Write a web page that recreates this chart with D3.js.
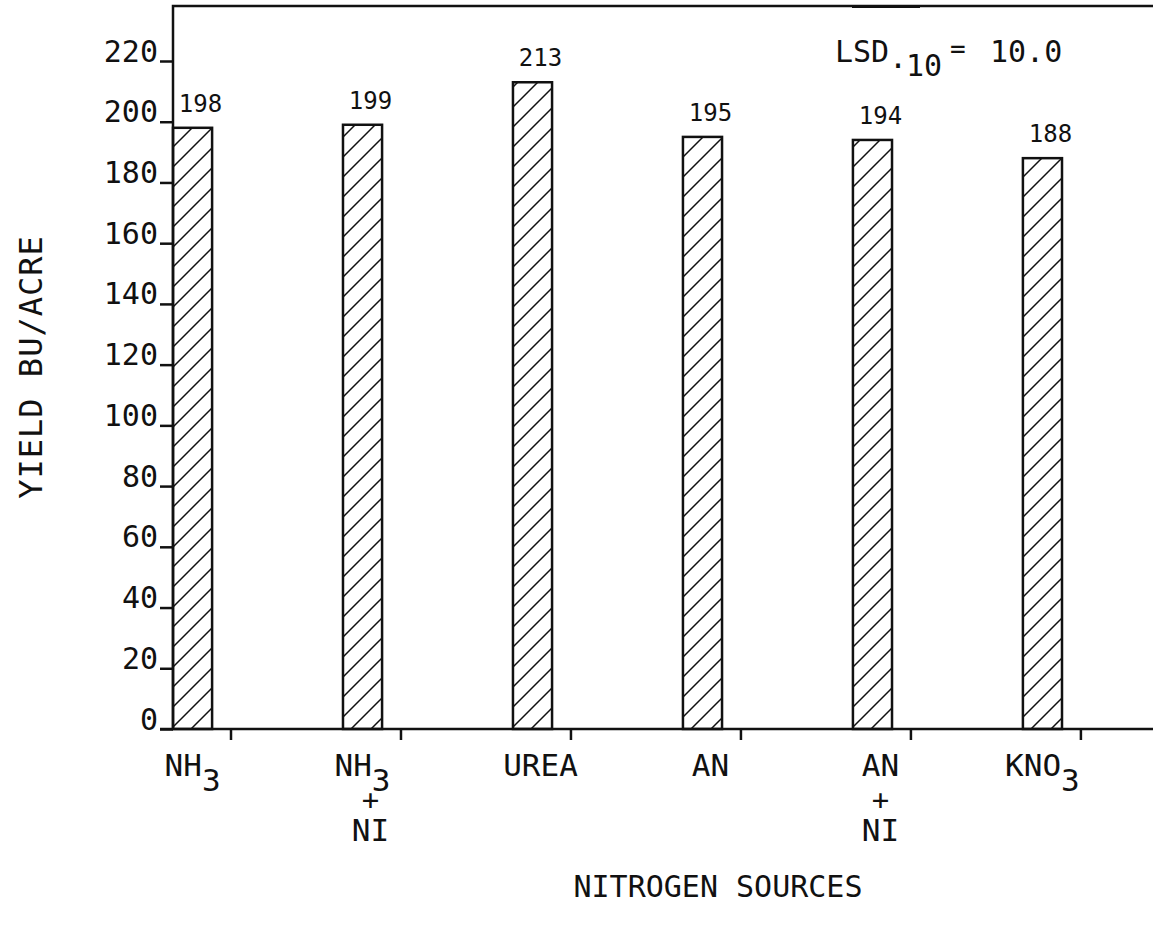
<!DOCTYPE html>
<html>
<head>
<meta charset="utf-8">
<script src="https://cdn.jsdelivr.net/npm/d3@7/dist/d3.min.js"></script>
<style>
  body { margin: 0; background: #fff; }
  text { font-family: "DejaVu Sans Mono", monospace; fill: #111; }
</style>
</head>
<body>
<div id="mount"></div>
<script>
// chart data
var sources = ['NH3', 'NH3+NI', 'UREA', 'AN', 'AN+NI', 'KNO3'];
var yields = [198, 199, 213, 195, 194, 188];
var yTicks = [0, 20, 40, 60, 80, 100, 120, 140, 160, 180, 200, 220];
// label lines: [main, subscript] per row
var labelLines = [
  [['NH', '3']],
  [['NH', '3'], ['+', ''], ['NI', '']],
  [['UREA', '']],
  [['AN', '']],
  [['AN', ''], ['+', ''], ['NI', '']],
  [['KNO', '3']]
];

var W = 1153, H = 930;
var plotLeft = 173, plotTop = 6, plotBottom = 729, plotRight = 1153;

var svg = d3.select('#mount').append('svg')
    .attr('width', W)
    .attr('height', H);

// hatch pattern
var pat = svg.append('defs').append('pattern')
    .attr('id', 'hatch')
    .attr('patternUnits', 'userSpaceOnUse')
    .attr('width', 20)
    .attr('height', 20);
pat.append('path')
    .attr('d', 'M0,20 L20,0 M-5,5 L5,-5 M15,25 L25,15')
    .attr('stroke', '#111')
    .attr('stroke-width', 1.5);

var x = d3.scaleBand()
    .domain(sources)
    .range([plotLeft, 1062])
    .paddingInner(0.77)
    .paddingOuter(0)
    .align(0);

var y = d3.scaleLinear()
    .domain([0, 220])
    .range([plotBottom, 61]);

// bars
svg.selectAll('.bar')
    .data(yields)
  .enter().append('rect')
    .attr('class', 'bar')
    .attr('x', (d, i) => x(sources[i]))
    .attr('y', d => y(d))
    .attr('width', x.bandwidth())
    .attr('height', d => y(0) - y(d))
    .attr('fill', 'url(#hatch)')
    .attr('stroke', '#111')
    .attr('stroke-width', 2.5);

// value labels
svg.selectAll('.val')
    .data(yields)
  .enter().append('text')
    .attr('class', 'val')
    .attr('x', (d, i) => x(sources[i]) + x.bandwidth() / 2 + 8)
    .attr('y', d => y(d) - 16)
    .attr('text-anchor', 'middle')
    .attr('font-size', 24)
    .text(d => d);

// y axis
var yAxis = d3.axisLeft(y).tickValues(yTicks).tickSize(13).tickSizeOuter(0);
var gy = svg.append('g')
    .attr('transform', `translate(${plotLeft},0)`)
    .call(yAxis);
gy.select('.domain').remove();
gy.selectAll('.tick line').attr('stroke', '#111').attr('stroke-width', 2.5);
gy.selectAll('.tick text')
    .attr('x', -15)
    .attr('dy', 0)
    .attr('font-size', 30)
    .attr('fill', '#111')
    .style('font-family', '"DejaVu Sans Mono", monospace');

// frame
svg.append('path')
    .attr('d', `M${plotRight},${plotTop} H${plotLeft} V${plotBottom} M${plotLeft - 13},${plotBottom} H${plotRight}`)
    .attr('fill', 'none')
    .attr('stroke', '#111')
    .attr('stroke-width', 2.5);
svg.append('line')
    .attr('x1', 852).attr('x2', 920)
    .attr('y1', plotTop + 1).attr('y2', plotTop + 1)
    .attr('stroke', '#111')
    .attr('stroke-width', 2);

// x ticks
svg.selectAll('.xtick')
    .data(sources)
  .enter().append('line')
    .attr('class', 'xtick')
    .attr('x1', d => x(d) + 58)
    .attr('x2', d => x(d) + 58)
    .attr('y1', plotBottom)
    .attr('y2', plotBottom + 11)
    .attr('stroke', '#111')
    .attr('stroke-width', 2.5);

// x labels: one text per category, one tspan row per line
var lineY = [776, 810, 841];
var lineSize = [31, 29, 31];
sources.forEach((s, i) => {
  var cx = x(s) + x.bandwidth() / 2 + 8;
  var t = svg.append('text')
      .attr('class', 'xlabel')
      .attr('text-anchor', 'middle')
      .attr('font-size', 31);
  labelLines[i].forEach((ln, j) => {
    var row = t.append('tspan')
        .attr('x', ln[1] ? cx - 8 : cx)
        .attr('y', lineY[j])
        .attr('font-size', lineSize[j]);
    if (ln[1]) {
      row.append('tspan').text(ln[0]);
      row.append('tspan').attr('dy', 15).text(ln[1]);
    } else {
      row.text(ln[0]);
    }
  });
});

// LSD annotation
var lsdG = svg.append('g');
lsdG.append('text').attr('x', 835).attr('y', 62).attr('font-size', 30).text('LSD');
lsdG.append('text').attr('x', 889).attr('y', 68).attr('font-size', 30).text('.');
lsdG.append('text').attr('x', 906).attr('y', 76).attr('font-size', 30).text('10');
lsdG.append('text').attr('x', 950).attr('y', 58).attr('font-size', 26).text('=');
lsdG.append('text').attr('x', 990).attr('y', 62).attr('font-size', 30).text('10.0');

// axis titles
svg.append('text')
    .attr('transform', 'translate(42,367) rotate(-90)')
    .attr('text-anchor', 'middle')
    .attr('font-size', 32)
    .attr('letter-spacing', 1)
    .text('YIELD BU/ACRE');

svg.append('text')
    .attr('x', 718)
    .attr('y', 897)
    .attr('text-anchor', 'middle')
    .attr('font-size', 30)
    .text('NITROGEN SOURCES');
</script>
</body>
</html>
